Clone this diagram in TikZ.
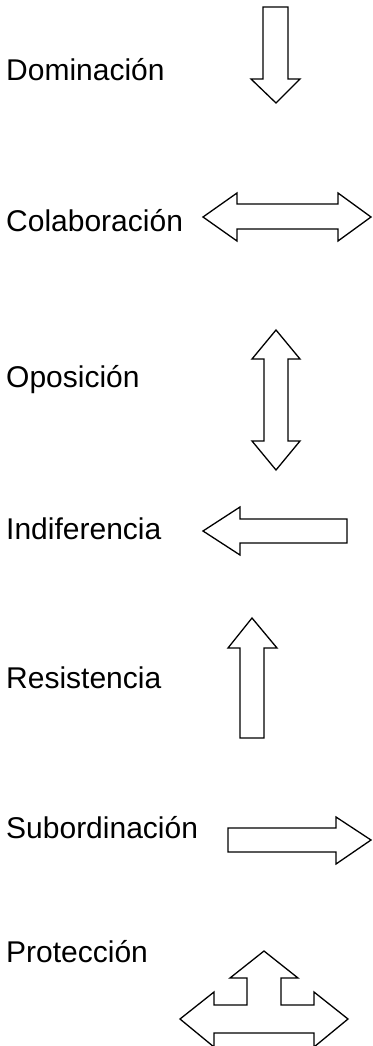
\documentclass[tikz,border=0pt]{standalone}
\usepackage{fontspec}
\setmainfont{Liberation Sans}
\usepackage{tikz}

\tikzset{
  lbl/.style={anchor=base west, inner sep=0pt, font=\fontsize{30}{34}\selectfont},
  blockarrow/.style={draw, line width=1.3pt, line join=miter, fill=white}
}

\begin{document}
\begin{tikzpicture}[x=1pt, y=-1pt]
\useasboundingbox (0,0) rectangle (372,1046);

\node[lbl](L1) at (6,81) {Dominación};
\node[lbl](L2) at (6,231) {Colaboración};
\node[lbl](L3) at (6,387) {Oposición};
\node[lbl](L4) at (6,539) {Indiferencia};
\node[lbl](L5) at (6,688) {Resistencia};
\node[lbl](L6) at (6,838) {Subordinación};
\node[lbl](L7) at (6,962) {Protección};

% down
\draw[blockarrow] (263,7) -- (288,7) -- (288,79) -- (300,79) -- (276,103) -- (251,79) -- (263,79) -- cycle;
% both ways, horizontal
\draw[blockarrow] (203,217) -- (237,193) -- (237,204) -- (338,204) -- (338,193) -- (371,217)
  -- (338,241) -- (338,229) -- (237,229) -- (237,241) -- cycle;
% both ways, vertical
\draw[blockarrow] (276,330) -- (300,359) -- (288,359) -- (288,441) -- (300,441) -- (276,470)
  -- (252,441) -- (264,441) -- (264,359) -- (252,359) -- cycle;
% left
\draw[blockarrow] (203,531) -- (240,507) -- (240,519) -- (347,519) -- (347,543) -- (240,543) -- (240,555) -- cycle;
% up
\draw[blockarrow] (252,618) -- (277,648) -- (264,648) -- (264,738) -- (240,738) -- (240,648) -- (228,648) -- cycle;
% right
\draw[blockarrow] (228,828) -- (336,828) -- (336,817) -- (371,840) -- (336,864) -- (336,852) -- (228,852) -- cycle;
% three ways
\draw[blockarrow] (264,951) -- (298,978) -- (281,978) -- (281,1005) -- (314,1005) -- (314,992) -- (348,1019)
  -- (314,1047) -- (314,1033) -- (214,1033) -- (214,1047) -- (180,1019) -- (214,992) -- (214,1005)
  -- (247,1005) -- (247,978) -- (230,978) -- cycle;
\end{tikzpicture}
\end{document}
